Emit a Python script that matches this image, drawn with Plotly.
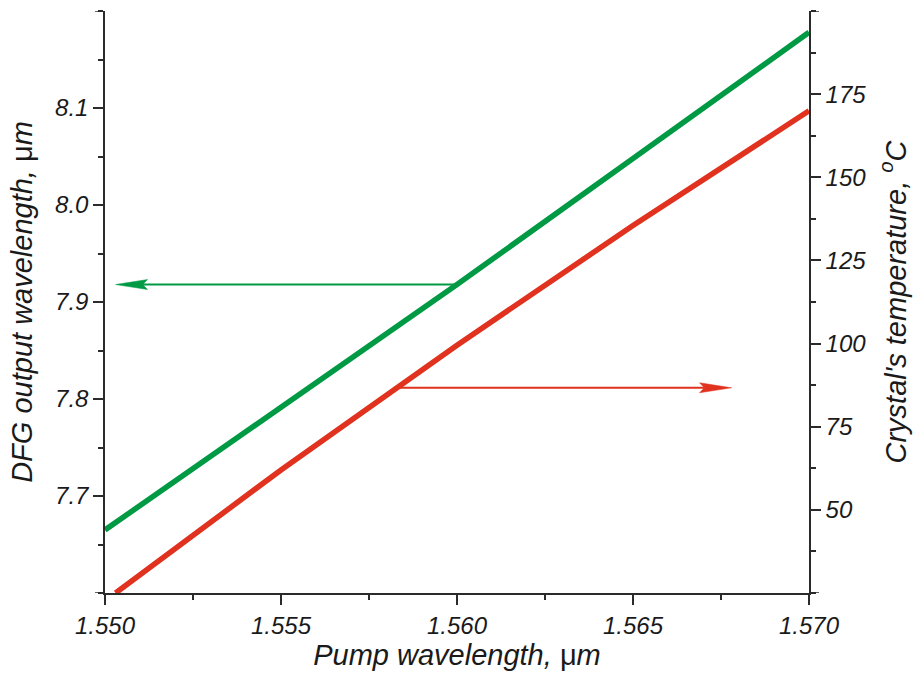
import plotly.graph_objects as go

# ---- data ----
pump_um = [1.550, 1.555, 1.560, 1.565, 1.570]
dfg_um = [7.665, 7.792, 7.918, 8.048, 8.178]

temp_pump_um = [1.5503, 1.555, 1.560, 1.565, 1.570]
temp_C = [25, 62, 99.5, 135.5, 170]

x_ticks = [1.550, 1.555, 1.560, 1.565, 1.570]
x_ticktext = ["1.550", "1.555", "1.560", "1.565", "1.570"]
yl_ticks = [7.7, 7.8, 7.9, 8.0, 8.1]
yl_ticktext = ["7.7", "7.8", "7.9", "8.0", "8.1"]
yr_ticks = [50, 75, 100, 125, 150, 175]
yr_ticktext = ["50", "75", "100", "125", "150", "175"]

# arrows: (start x, end x, y)
green_arrow = (1.560, 1.5503, 7.918)   # points to left axis
red_arrow = (1.5582, 1.5678, 86.7)     # points to right axis

GREEN = "#009a44"
RED = "#e0321e"
AX = "#2b2b2b"

W, H = 913, 673
ML, MR, MT, MB = 105, 104, 11, 80
xr = [1.550, 1.570]
ylr = [7.6, 8.2]
yrr = [25, 200]
pw = W - ML - MR
ph = H - MT - MB

fig = go.Figure()
fig.add_trace(go.Scatter(x=pump_um, y=dfg_um, mode="lines",
                         line=dict(color=GREEN, width=5.5), yaxis="y",
                         showlegend=False, hoverinfo="skip"))
fig.add_trace(go.Scatter(x=temp_pump_um, y=temp_C, mode="lines",
                         line=dict(color=RED, width=5.5), yaxis="y2",
                         showlegend=False, hoverinfo="skip"))

shapes = []
def arrow(a, yref, yrange, color):
    x0, x1, y = a
    d = 1 if x1 > x0 else -1
    L = 32 * (xr[1] - xr[0]) / pw
    h = 5 * (yrange[1] - yrange[0]) / ph
    xb = x1 - d * L
    xn = x1 - d * 0.85 * L
    shapes.append(dict(type="line", xref="x", yref=yref, x0=x0, x1=xn, y0=y, y1=y,
                       line=dict(color=color, width=2)))
    path = f"M{x1},{y} L{xb},{y + h} L{xn},{y} L{xb},{y - h} Z"
    shapes.append(dict(type="path", xref="x", yref=yref, path=path,
                       fillcolor=color, line=dict(color=color, width=0.5)))

arrow(green_arrow, "y", ylr, GREEN)
arrow(red_arrow, "y2", yrr, RED)

# unlabeled major ticks at the axis ends
tick_line = dict(color=AX, width=1.5)
for yv in ylr:
    shapes.append(dict(type="line", xref="paper", xsizemode="pixel", xanchor=0,
                       x0=-10, x1=0, yref="y", y0=yv, y1=yv, line=tick_line))
for yv in yrr:
    shapes.append(dict(type="line", xref="paper", xsizemode="pixel", xanchor=1,
                       x0=0, x1=10, yref="y2", y0=yv, y1=yv, line=tick_line))

font = dict(family="Liberation Sans, Arial, sans-serif", size=24, color="#1a1a1a", style="italic")
tfont = dict(family="Liberation Sans, Arial, sans-serif", size=29, color="#1a1a1a", style="italic")
MU = '<span style="font-style:normal">μ</span>'

common = dict(showgrid=False, zeroline=False, showline=True, linecolor=AX, linewidth=1.5,
              ticks="outside", ticklen=10, tickwidth=1.5, tickcolor=AX, tickfont=font,
              automargin=False)

fig.update_layout(
    width=W, height=H, margin=dict(l=ML, r=MR, t=MT, b=MB),
    paper_bgcolor="white", plot_bgcolor="white",
    shapes=shapes,
    xaxis=dict(range=xr, tickmode="array", tickvals=x_ticks, ticktext=x_ticktext,
               minor=dict(tickmode="linear", tick0=1.550, dtick=0.0025, ticks="outside",
                          ticklen=5, tickwidth=1.5, tickcolor=AX),
               title=dict(text=f"Pump wavelength, {MU}m", font=tfont, standoff=4),
               **common),
    yaxis=dict(range=ylr, tickmode="array", tickvals=yl_ticks, ticktext=yl_ticktext,
               minor=dict(tickmode="linear", tick0=7.6, dtick=0.05, ticks="outside",
                          ticklen=5, tickwidth=1.5, tickcolor=AX),
               title=dict(text=f"DFG output wavelength, {MU}m", font=tfont, standoff=14),
               **common),
    yaxis2=dict(range=yrr, overlaying="y", side="right", tickmode="array",
                tickvals=yr_ticks, ticktext=yr_ticktext,
                minor=dict(tickmode="linear", tick0=25, dtick=12.5, ticks="outside",
                           ticklen=5, tickwidth=1.5, tickcolor=AX),
                title=dict(text="Crystal's temperature, <sup>o</sup>C", font=tfont, standoff=20),
                **common),
)

fig.write_html("out.html", config={"displayModeBar": False},
               post_script="document.body.style.margin='0px';document.body.style.overflow='hidden';")
